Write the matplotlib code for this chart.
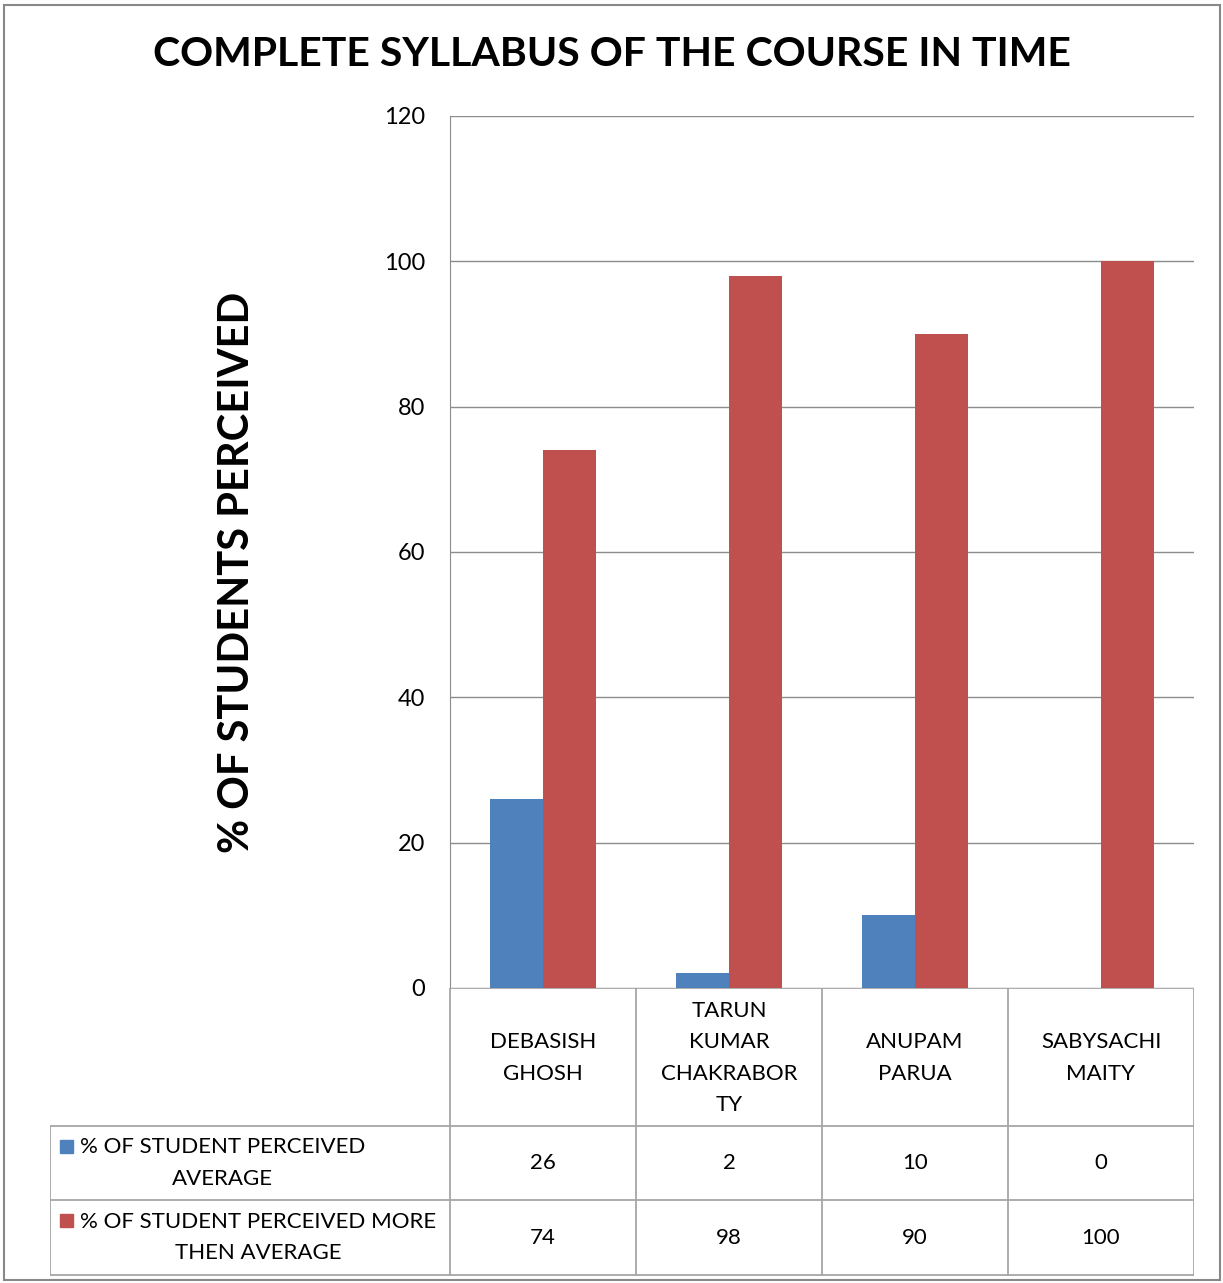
import matplotlib.pyplot as plt
from matplotlib.patches import Rectangle
import numpy as np

plt.rcParams['font.family'] = ['Lato', 'DejaVu Sans']

categories = ['DEBASISH\nGHOSH', 'TARUN\nKUMAR\nCHAKRABOR\nTY', 'ANUPAM\nPARUA', 'SABYSACHI\nMAITY']
series_names = ['% OF STUDENT PERCEIVED\nAVERAGE', '% OF STUDENT PERCEIVED MORE\nTHEN AVERAGE']
avg = [26, 2, 10, 0]
more = [74, 98, 90, 100]
yticks = [0, 20, 40, 60, 80, 100, 120]

blue = '#4F81BD'
red = '#C0504D'
grid_c = '#8c8c8c'
tab_c = '#a6a6a6'

W, H = 1223, 1283
fig = plt.figure(figsize=(W / 100, H / 100), dpi=100)

# outer chart frame
fig.patches.append(Rectangle((4 / W, 3 / H), 1216 / W, 1275 / H, transform=fig.transFigure,
                             fill=False, edgecolor='#888888', lw=1.5))

# plot area in pixels: x 450..1194, y 116..988
ax = fig.add_axes([450 / W, 1 - 988 / H, 744 / W, 872 / H])
x = np.arange(len(categories))
w = 1 / 3.5
ax.bar(x - w / 2, avg, w, color=blue, zorder=3)
ax.bar(x + w / 2, more, w, color=red, zorder=3)
ax.set_xlim(-0.5, 3.5)
ax.set_ylim(0, 120)
ax.set_yticks(yticks)
ax.set_xticks([])
ax.tick_params(axis='y', length=0, pad=18, labelsize=17)
ax.grid(axis='y', color=grid_c, lw=1, zorder=0)
for s in ['top', 'right', 'bottom']:
    ax.spines[s].set_visible(False)
ax.spines['left'].set_color(grid_c)
ax.set_ylabel('% OF STUDENTS PERCEIVED', fontsize=30, fontweight='bold', va='center')
ax.yaxis.set_label_coords(-0.286, 0.477)

fig.text(612 / W, 1 - 55 / H, 'COMPLETE SYLLABUS OF THE COURSE IN TIME',
         ha='center', va='center', fontsize=29.5, fontweight='bold')

# data table below the plot, x in category units, y in pixels
left = -0.5 - 400 / 186
tax = fig.add_axes([50 / W, 1 - 1276 / H, 1144 / W, 288 / H])
tax.set_xlim(left, 3.5)
tax.set_ylim(1276, 988)
tax.axis('off')
row_y = [988, 1126, 1200, 1275]
tax.plot([-0.5, 3.5], [988, 988], color=tab_c, lw=1.3)
for yy in row_y[1:]:
    tax.plot([left, 3.5], [yy, yy], color=tab_c, lw=1.3)
tax.plot([left, left], [1126, 1275], color=tab_c, lw=1.3)
for i in range(len(categories) + 1):
    tax.plot([i - 0.5, i - 0.5], [988, 1275], color=tab_c, lw=1.3)

for i, c in enumerate(categories):
    tax.text(i, 1058, c, ha='center', va='center', fontsize=16, linespacing=1.7)

rows = [(avg, blue), (more, red)]
for r, (vals, col) in enumerate(rows):
    yc = (row_y[r + 1] + row_y[r + 2]) / 2
    for i, v in enumerate(vals):
        tax.text(i, yc, str(v), ha='center', va='center', fontsize=16)
    ytop = row_y[r + 1]
    kx = left + 10 / 186
    tax.add_patch(Rectangle((kx, ytop + 27), 13 / 186, -13, color=col))
    tax.text(left + 30 / 186, yc, series_names[r], ha='left', va='center',
             multialignment='center', fontsize=16, linespacing=1.7)

fig.savefig('out.png', dpi=100)
